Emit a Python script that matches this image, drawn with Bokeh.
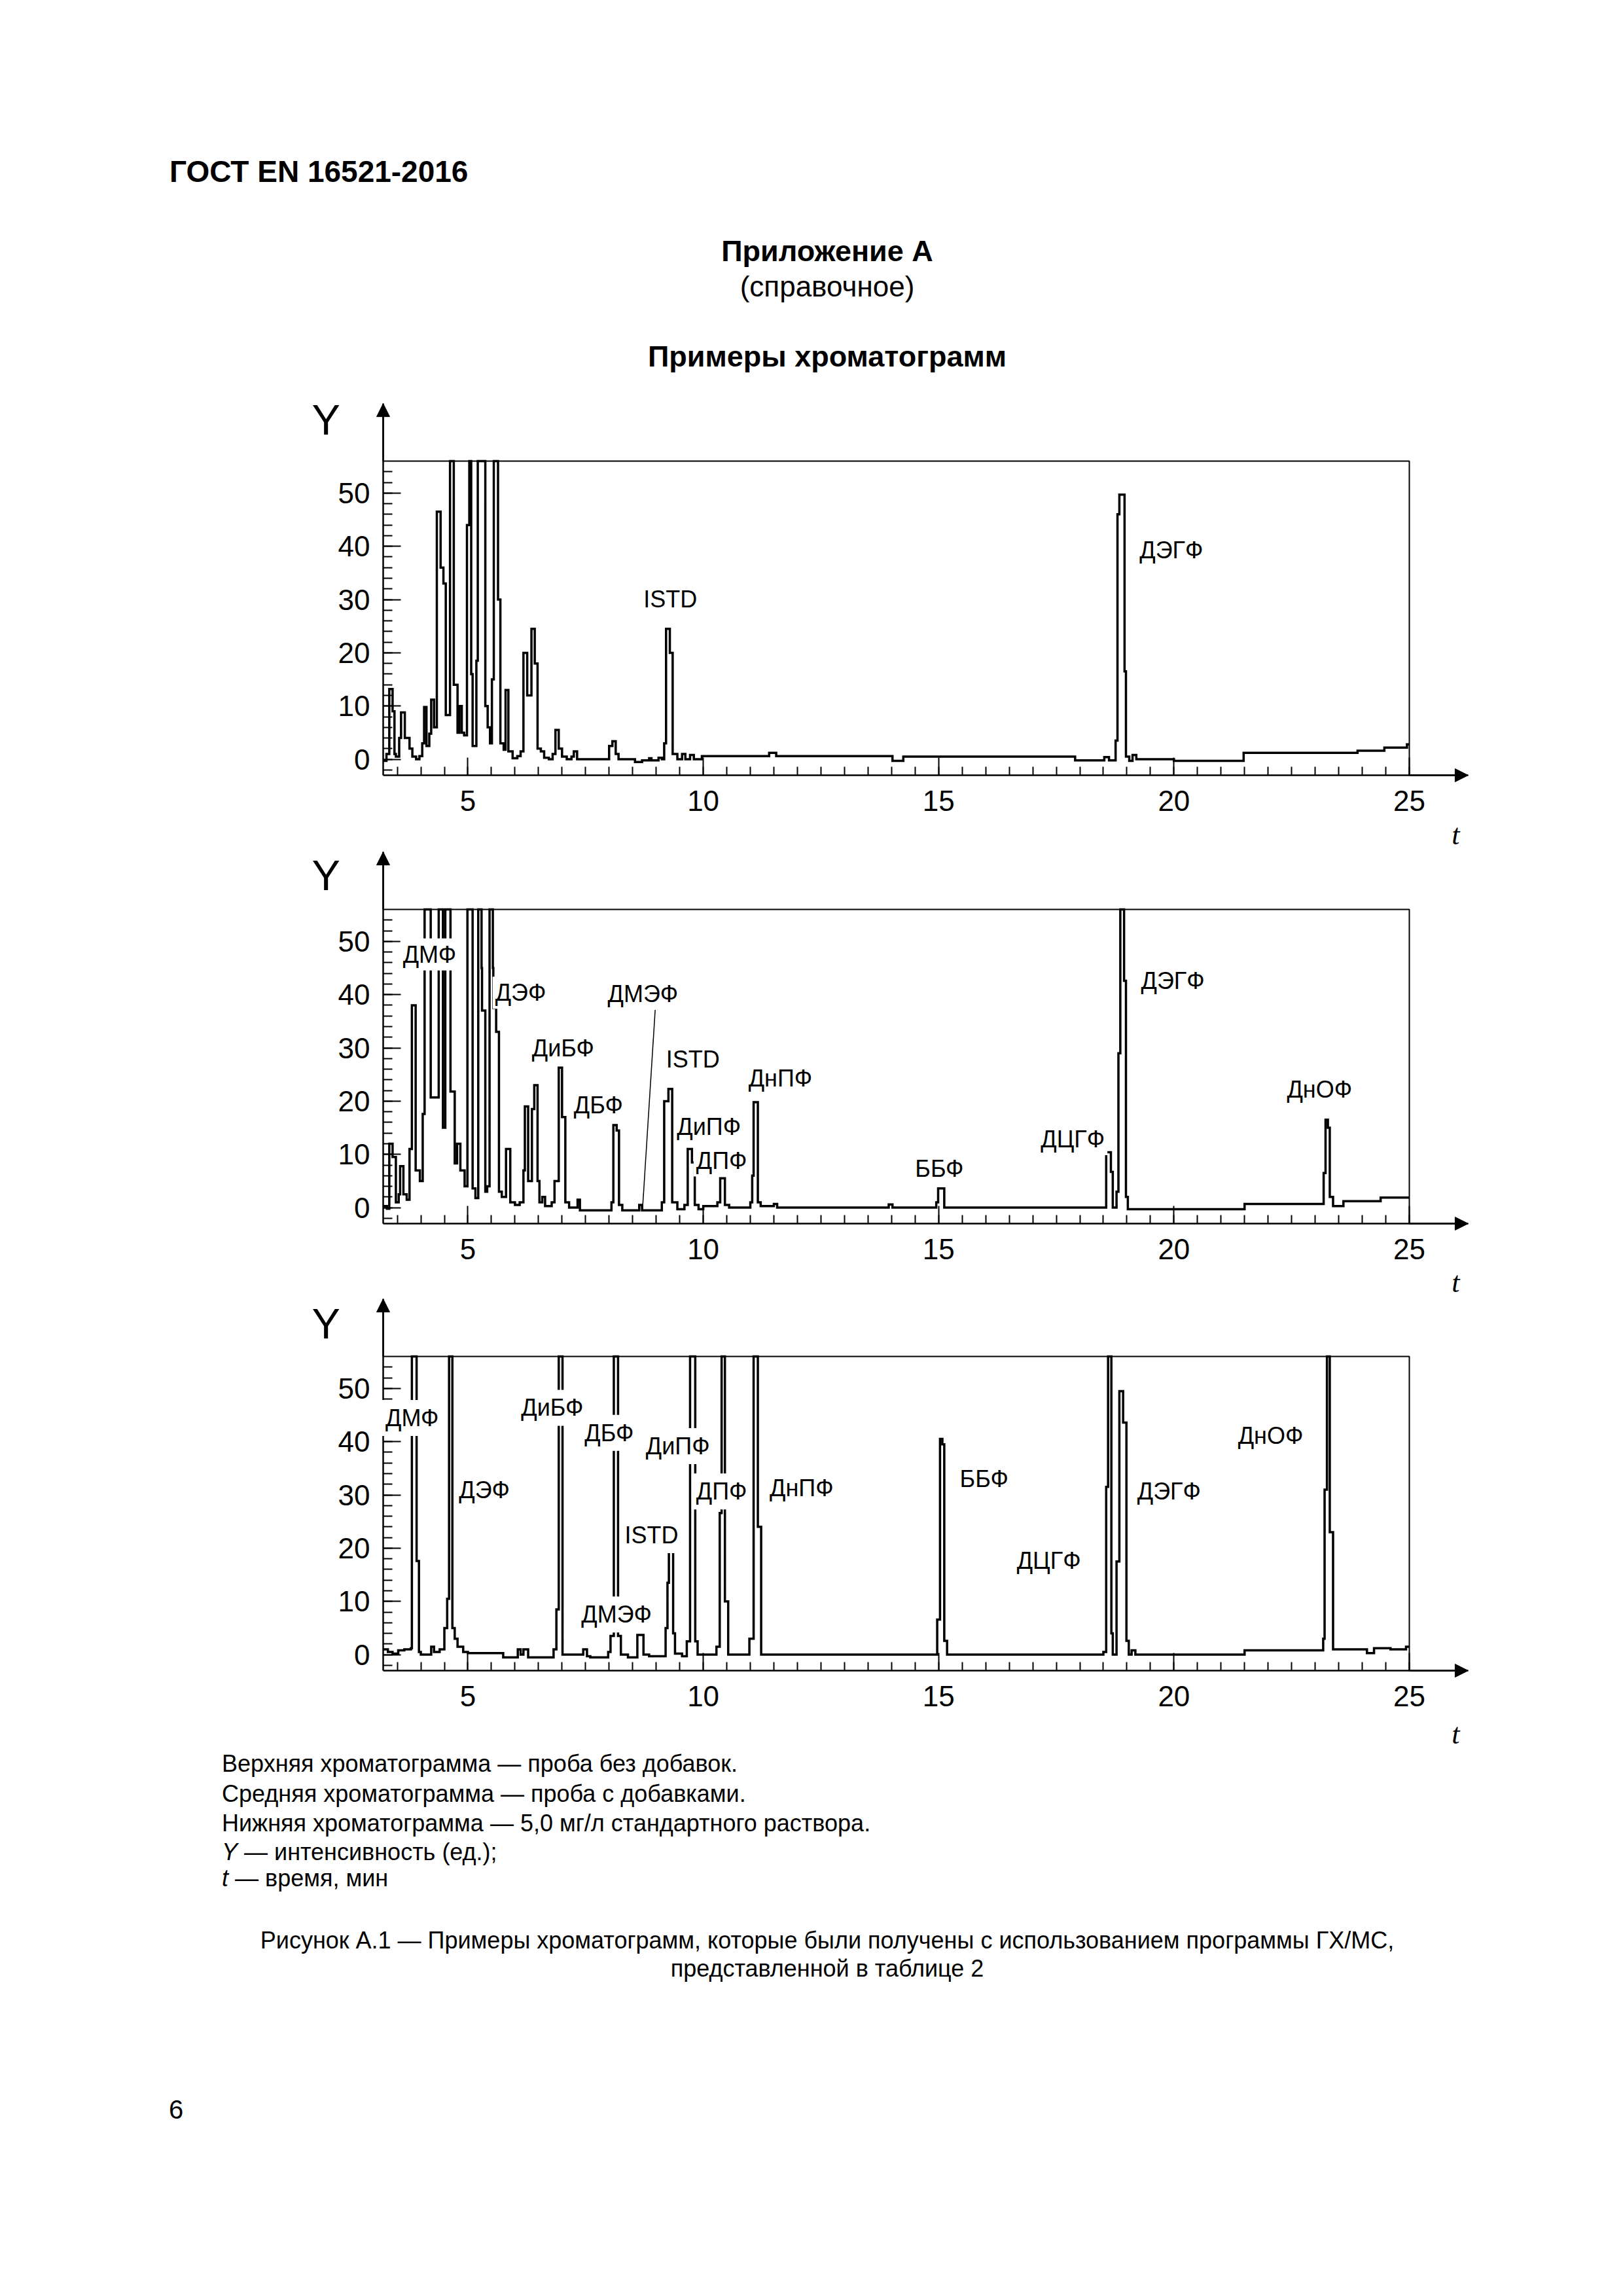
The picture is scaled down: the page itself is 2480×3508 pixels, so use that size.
import numpy as np
from bokeh.plotting import figure
from bokeh.models import Div, Label, Arrow, NormalHead, FixedTicker, Range1d, LinearAxis
from bokeh.layouts import column
from bokeh.embed import file_html
from bokeh.resources import INLINE

# ---------------- data ----------------
# time t, min  /  intensity Y (units); 60 = off scale (above the plotted 56)
top_trace = [
    (3.20, -0.3), (3.27, 1.0), (3.33, 13.2), (3.40, 9.0), (3.44, 1.0), (3.47, 0.5), (3.54, 4.0),
    (3.58, 8.8), (3.66, 4.0), (3.76, 2.0), (3.82, 0.5), (3.90, 0.0), (3.97, 0.6), (4.03, 3.0),
    (4.07, 9.8), (4.12, 2.5), (4.18, 4.8), (4.22, 11.2), (4.28, 6.0), (4.34, 46.5), (4.42, 36.0),
    (4.48, 33.0), (4.53, 8.3), (4.62, 60), (4.70, 14.0), (4.78, 5.0), (4.82, 10.0), (4.87, 5.0),
    (4.92, 4.5), (4.98, 44.0), (5.03, 60), (5.07, 16.0), (5.10, 2.5), (5.18, 18.5), (5.21, 60),
    (5.37, 10.0), (5.42, 6.0), (5.47, 3.0), (5.51, 15.0), (5.55, 60), (5.64, 30.0), (5.69, 3.0),
    (5.76, 1.8), (5.80, 13.0), (5.86, 1.5), (5.95, 0.2), (6.05, 0.6), (6.12, 1.5), (6.18, 20.0),
    (6.26, 12.0), (6.35, 24.5), (6.42, 18.0), (6.48, 2.0), (6.55, 1.5), (6.62, 0.3), (6.72, 0.0),
    (6.80, 1.0), (6.86, 5.5), (6.93, 2.0), (7.00, 0.5), (7.10, 0.0), (7.20, 0.5), (7.25, 1.5),
    (7.32, 0.0), (8.00, 2.5), (8.07, 3.4), (8.14, 1.0), (8.20, 0.0), (8.55, -0.5), (8.70, -0.2),
    (8.85, 0.2), (8.90, -0.2), (9.05, 0.3), (9.12, 0.0), (9.17, 3.0), (9.21, 24.5), (9.29, 20.0),
    (9.35, 1.0), (9.45, 0.0), (9.55, 1.0), (9.62, 0.0), (9.72, 0.8), (9.80, 0.0), (9.97, 0.6),
    (11.40, 1.2), (11.55, 0.6), (14.02, -0.3), (14.25, 0.5), (17.90, -0.2), (18.52, 0.4),
    (18.62, -0.2), (18.76, 3.5), (18.80, 46.0), (18.84, 49.7), (18.95, 16.5), (18.98, 0.5),
    (19.05, -0.3), (19.12, 0.8), (19.20, 0.0), (20.00, -0.3), (21.48, 1.2), (23.90, 1.6),
    (24.47, 2.2), (24.95, 2.8), (25.00, 2.8),
]

mid_trace = [
    (3.20, 0.3), (3.28, -0.2), (3.33, 12.0), (3.40, 9.5), (3.47, 1.0), (3.53, 2.5), (3.56, 7.8),
    (3.63, 2.5), (3.70, 1.5), (3.76, 11.0), (3.81, 38.0), (3.89, 7.0), (3.98, 5.0), (4.04, 17.6),
    (4.08, 60), (4.21, 20.7), (4.38, 60), (4.47, 15.0), (4.52, 60), (4.63, 21.8), (4.72, 8.3),
    (4.77, 12.0), (4.84, 7.0), (4.93, 4.0), (4.99, 60), (5.10, 3.6), (5.16, 1.8), (5.22, 60),
    (5.29, 45.0), (5.30, 37.0), (5.37, 3.0), (5.41, 4.0), (5.46, 60), (5.53, 45.0), (5.54, 37.5),
    (5.60, 33.0), (5.66, 3.0), (5.72, 2.0), (5.81, 11.0), (5.90, 1.0), (6.00, 0.5), (6.10, 1.0),
    (6.18, 7.0), (6.21, 19.0), (6.28, 5.0), (6.36, 18.5), (6.41, 23.0), (6.48, 5.0), (6.52, 1.0),
    (6.58, 2.0), (6.64, 0.3), (6.78, 1.0), (6.84, 5.0), (6.93, 26.3), (7.00, 17.0), (7.07, 1.0),
    (7.15, 0.0), (7.33, 1.5), (7.38, -0.5), (8.05, 1.0), (8.09, 15.5), (8.16, 14.5), (8.21, 0.5),
    (8.28, -0.5), (8.64, 0.5), (8.70, -0.5), (9.12, 1.0), (9.17, 20.0), (9.26, 22.3), (9.34, 1.0),
    (9.45, -0.3), (9.60, 0.5), (9.67, 11.0), (9.76, 8.5), (9.82, 0.5), (9.90, -0.3), (10.00, 0.3),
    (10.30, 1.0), (10.36, 5.5), (10.46, 0.5), (10.55, 0.0), (11.00, 1.0), (11.04, 6.0),
    (11.07, 19.8), (11.16, 1.0), (11.22, 0.3), (11.50, 0.7), (11.57, 0.0), (13.94, 0.6),
    (14.02, 0.0), (14.95, 1.0), (14.99, 3.6), (15.12, 0.0), (18.56, 10.4), (18.66, 6.7),
    (18.70, 0.0), (18.78, 3.0), (18.82, 29.0), (18.86, 60), (18.94, 42.6), (18.98, 2.0),
    (19.02, -0.3), (21.50, 0.7), (23.18, 6.5), (23.22, 16.5), (23.27, 15.0), (23.31, 2.0),
    (23.38, 0.3), (23.60, 1.2), (24.39, 1.9), (25.00, 1.9),
]

std_trace = [
    (3.20, 1.0), (3.30, 0.5), (3.40, 0.2), (3.52, 0.8), (3.65, 1.0), (3.79, 1.2), (3.81, 60),
    (3.91, 17.6), (3.96, 0.5), (4.00, 0.0), (4.22, 1.5), (4.28, 0.5), (4.40, 1.0), (4.50, 5.0),
    (4.56, 10.5), (4.60, 60), (4.67, 5.0), (4.72, 3.0), (4.78, 1.5), (4.90, 0.5), (5.00, 0.3),
    (5.75, -0.5), (6.06, 1.0), (6.12, 0.0), (6.18, 1.0), (6.28, -0.5), (6.82, 1.0), (6.88, 8.5),
    (6.93, 60), (7.01, 0.0), (7.45, 1.0), (7.53, -0.3), (7.60, -0.5), (7.98, 0.5), (8.03, 3.5),
    (8.10, 60), (8.19, 3.5), (8.25, 0.0), (8.40, -0.5), (8.60, 3.7), (8.73, 0.0), (8.85, -0.3),
    (9.20, 5.0), (9.24, 13.5), (9.27, 19.3), (9.36, 4.0), (9.40, 0.2), (9.55, -0.3), (9.65, 2.5),
    (9.72, 60), (9.83, 2.5), (9.88, 0.0), (10.28, 1.5), (10.35, 26.6), (10.39, 60), (10.46, 10.0),
    (10.53, 0.0), (10.98, 3.0), (11.07, 60), (11.16, 24.0), (11.23, 0.0), (14.97, 6.6),
    (15.03, 40.5), (15.08, 39.5), (15.12, 2.6), (15.18, 0.0), (18.50, 0.5), (18.56, 31.5),
    (18.60, 60), (18.67, 4.0), (18.70, 0.0), (18.78, 17.5), (18.84, 49.5), (18.92, 43.6),
    (18.99, 2.6), (19.04, 0.0), (19.10, 0.8), (19.18, 0.0), (21.50, 0.8), (23.17, 3.0),
    (23.20, 31.0), (23.25, 60), (23.31, 23.0), (23.38, 1.0), (24.10, 0.3), (24.25, 1.2),
    (24.60, 1.0), (24.93, 1.5), (25.00, 1.5),
]

# peak labels: name, t of left edge, Y of baseline
top_labels = [("ISTD", 8.73, 28.7), ("ДЭГФ", 19.27, 37.9)]
mid_labels = [
    ("ДМФ", 3.62, 46.2), ("ДЭФ", 5.58, 39.0), ("ДМЭФ", 7.97, 38.8), ("ДиБФ", 6.36, 28.6),
    ("ISTD", 9.21, 26.5), ("ДБФ", 7.25, 17.9), ("ДнПФ", 10.96, 22.9), ("ДиПФ", 9.44, 13.8),
    ("ДПФ", 9.85, 7.5), ("ББФ", 14.50, 6.0), ("ДЦГФ", 17.17, 11.5), ("ДЭГФ", 19.30, 41.3),
    ("ДнОФ", 22.40, 20.9),
]
std_labels = [
    ("ДМФ", 3.25, 43.1), ("ДЭФ", 4.81, 29.6), ("ДиБФ", 6.13, 45.0), ("ДБФ", 7.48, 40.3),
    ("ДиПФ", 8.78, 37.8), ("ISTD", 8.33, 21.1), ("ДМЭФ", 7.41, 6.2), ("ДПФ", 9.85, 29.3),
    ("ДнПФ", 11.41, 30.0), ("ББФ", 15.45, 31.7), ("ДЦГФ", 16.66, 16.3), ("ДЭГФ", 19.22, 29.3),
    ("ДнОФ", 21.36, 39.8),
]
# leader line of the ДМЭФ label in the middle chromatogram (t, Y)
mid_pointer_t = [8.98, 8.71]
mid_pointer_y = [37.3, -0.25]

x_major = [5, 10, 15, 20, 25]
y_major = [0, 10, 20, 30, 40, 50]

# ---------------- layout / styling ----------------
FONT = "Liberation Sans"
XMIN, XMAX, YMIN, YMAX = 3.2, 25.0, -3.0, 56.0
X_ARROW_TIP, Y_ARROW_TIP = 26.25, 66.8
PAGE_W = 2480
BOX_LEFT_PX, BOX_W_PX, BOX_H_PX = 585, 1568, 480
PX_X = BOX_W_PX / (XMAX - XMIN)
PX_Y = BOX_H_PX / (YMAX - YMIN)
RAISE_PX = 11   # baseline correction for 36px peak labels
Y_CORR_PX = 21  # baseline correction for the 65px "Y"
T_CORR_PX = 14  # baseline correction for the 44px "t"


def make_panel(trace, labels, canvas_h, box_top_px, pad, y_above_px, t_below_px, pointer=None):
    # the frame is the whole canvas; the chart box sits inside it
    x0 = XMIN - BOX_LEFT_PX / PX_X
    x1 = XMIN + (PAGE_W - BOX_LEFT_PX) / PX_X
    y1 = YMAX + box_top_px / PX_Y
    y0 = YMIN - (canvas_h - box_top_px - BOX_H_PX) / PX_Y
    p = figure(width=PAGE_W, height=canvas_h, x_range=Range1d(x0, x1), y_range=Range1d(y0, y1),
               output_backend="svg", toolbar_location=None, title=None,
               x_axis_location=None, y_axis_location=None,
               min_border=0, background_fill_color="white", border_fill_color="white",
               outline_line_color=None, margin=(0, 0, 0, 0))
    p.grid.visible = False

    yax = LinearAxis(fixed_location=XMIN, bounds=(YMIN, Y_ARROW_TIP),
                     ticker=FixedTicker(ticks=y_major, minor_ticks=list(range(-2, 56, 2))))
    xax = LinearAxis(fixed_location=YMIN, bounds=(XMIN, X_ARROW_TIP),
                     ticker=FixedTicker(ticks=x_major, minor_ticks=list(np.arange(3.5, 25.01, 0.5))))
    for ax in (xax, yax):
        ax.axis_line_width = 2.5
        ax.axis_line_color = "black"
        ax.major_tick_line_width = 2
        ax.minor_tick_line_width = 2
        ax.major_tick_line_color = "black"
        ax.minor_tick_line_color = "black"
        ax.major_tick_out = 0
        ax.minor_tick_out = 0
        ax.major_tick_in = 27
        ax.major_label_text_font = FONT
        ax.major_label_text_font_size = "44px"
        ax.major_label_text_color = "black"
    yax.minor_tick_in = 14
    yax.major_label_standoff = 20
    xax.minor_tick_in = 13
    xax.major_label_standoff = 23
    p.add_layout(yax, "left")
    p.add_layout(xax, "below")

    # top and right sides of the chart box
    p.line([XMIN, XMAX, XMAX], [YMAX, YMAX, YMIN], line_width=2, line_color="black")

    ts = [a for a, b in trace]
    ys = np.minimum([b for a, b in trace], YMAX)
    p.step(ts, ys, mode="after", line_width=3.5, line_color="black", line_join="miter")

    if pointer is not None:
        p.line(pointer[0], pointer[1], line_width=1.5, line_color="black")

    dx = pad / PX_X
    dy = RAISE_PX / PX_Y
    for name, lt, ly in labels:
        p.add_layout(Label(x=lt - dx, y=ly + dy, text=name, text_font=FONT, text_font_size="36px",
                           text_color="black", text_align="left", text_baseline="alphabetic",
                           background_fill_color="white", background_fill_alpha=1.0, padding=pad))

    head = dict(size=20, fill_color="black", line_color="black", line_width=1)
    p.add_layout(Arrow(end=NormalHead(**head), x_start=XMIN, y_start=YMAX, x_end=XMIN,
                       y_end=Y_ARROW_TIP, line_width=2.5, line_color="black"))
    p.add_layout(Arrow(end=NormalHead(**head), x_start=XMAX, y_start=YMIN, x_end=X_ARROW_TIP,
                       y_end=YMIN, line_width=2.5, line_color="black"))
    p.add_layout(Label(x=1.685, y=YMAX + (y_above_px + Y_CORR_PX) / PX_Y, text="Y", text_font=FONT,
                       text_font_size="65px", text_color="black", text_align="left",
                       text_baseline="alphabetic"))
    p.add_layout(Label(x=25.9, y=YMIN - (t_below_px - T_CORR_PX) / PX_Y, text="t",
                       text_font="Liberation Serif", text_font_style="italic",
                       text_font_size="44px", text_color="black",
                       text_align="left", text_baseline="alphabetic"))
    return p


# canvas heights, chart-box top offsets, label spacing (px)
p1 = make_panel(top_trace, top_labels, 699, 104, 4, 42, 105)
p2 = make_panel(mid_trace, mid_labels, 684, 90, 4, 31, 104, pointer=(mid_pointer_t, mid_pointer_y))
p3 = make_panel(std_trace, std_labels, 691, 89, 7, 29, 111)

header_html = """
<div style="position:relative;width:2480px;height:600px;font-family:'Liberation Sans',Arial,sans-serif;color:#000;">
 <div style="position:absolute;left:259px;top:239px;font-size:46px;line-height:46px;font-weight:bold;white-space:nowrap;">ГОСТ EN 16521-2016</div>
 <div style="position:absolute;left:764px;width:1000px;text-align:center;top:361px;font-size:45px;line-height:45px;font-weight:bold;white-space:nowrap;">Приложение А</div>
 <div style="position:absolute;left:764px;width:1000px;text-align:center;top:416px;font-size:44px;line-height:44px;white-space:nowrap;">(справочное)</div>
 <div style="position:absolute;left:764px;width:1000px;text-align:center;top:522px;font-size:45px;line-height:45px;font-weight:bold;white-space:nowrap;">Примеры хроматограмм</div>
</div>
"""

footer_html = """
<div style="position:relative;width:2480px;height:834px;font-family:'Liberation Sans',Arial,sans-serif;color:#000;font-size:36px;line-height:36px;">
 <div style="position:absolute;left:339px;top:2.5px;white-space:nowrap;">Верхняя хроматограмма — проба без добавок.</div>
 <div style="position:absolute;left:339px;top:48.5px;white-space:nowrap;">Средняя хроматограмма — проба с добавками.</div>
 <div style="position:absolute;left:339px;top:93.5px;white-space:nowrap;">Нижняя хроматограмма — 5,0 мг/л стандартного раствора.</div>
 <div style="position:absolute;left:339px;top:137.5px;white-space:nowrap;"><i>Y</i> — интенсивность (ед.);</div>
 <div style="position:absolute;left:339px;top:177.5px;white-space:nowrap;"><i>t</i> — время, мин</div>
 <div style="position:absolute;left:264px;width:2000px;text-align:center;top:272.5px;white-space:nowrap;">Рисунок А.1 — Примеры хроматограмм, которые были получены с использованием программы ГХ/МС,</div>
 <div style="position:absolute;left:264px;width:2000px;text-align:center;top:315.5px;white-space:nowrap;">представленной в таблице 2</div>
 <div style="position:absolute;left:258px;top:529px;font-size:40px;line-height:40px;">6</div>
</div>
"""

header = Div(text=header_html, width=2480, height=600, margin=(0, 0, 0, 0))
footer = Div(text=footer_html, width=2480, height=834, margin=(0, 0, 0, 0))

page = column(header, p1, p2, p3, footer, spacing=0, margin=(0, 0, 0, 0))

with open("out.html", "w") as f:
    f.write(file_html(page, INLINE, title="ГОСТ EN 16521-2016"))
